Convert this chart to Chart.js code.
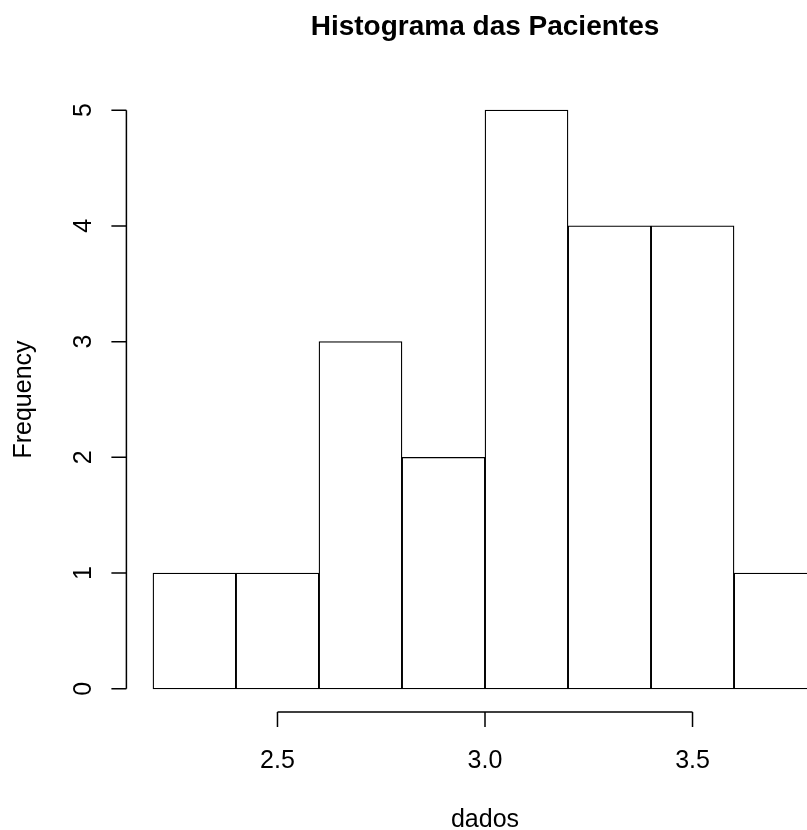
<!DOCTYPE html>
<html>
<head>
<meta charset="utf-8">
<script src="https://cdn.jsdelivr.net/npm/chart.js@4.4.1/dist/chart.umd.min.js"></script>
<style>
  html, body { margin: 0; padding: 0; overflow: hidden; background: #fff; }
  #wrap { width: 880px; height: 830px; }
</style>
</head>
<body>
<div id="wrap"><canvas id="hist" width="880" height="830"></canvas></div>
<script>
// Histogram bins (class limits) and counts per bin
const breaks = [2.2, 2.4, 2.6, 2.8, 3.0, 3.2, 3.4, 3.6, 3.8];
const counts = [1, 1, 3, 2, 5, 4, 4, 1];

// Axis ticks
const xTickValues = [2.5, 3.0, 3.5];
const xTickLabels = ['2.5', '3.0', '3.5'];
const yTickValues = [0, 1, 2, 3, 4, 5];
const yTickLabels = ['0', '1', '2', '3', '4', '5'];

// Texts
const titleText = 'Histograma das Pacientes';
const xLabelText = 'dados';
const yLabelText = 'Frequency';

// Plot range: break range / count range widened by 4% on each side
const xLo = breaks[0], xHi = breaks[breaks.length - 1];
const xPad = (xHi - xLo) * 0.04;
const yTop = Math.max(...counts);
const yPad = yTop * 0.04;

const barData = counts.map((c, i) => ({ x: (breaks[i] + breaks[i + 1]) / 2, y: c }));

const FONT = '"Liberation Sans", Arial, Helvetica, sans-serif';

// Base-graphics style axes, title and labels
const baseAxes = {
  id: 'baseAxes',
  afterDraw(chart) {
    const { ctx, chartArea: a, scales: { x, y } } = chart;
    ctx.save();
    ctx.strokeStyle = '#000';
    ctx.fillStyle = '#000';
    ctx.lineWidth = 1.5;
    const tick = 15;

    // x axis
    const xb = a.bottom;
    ctx.beginPath();
    ctx.moveTo(x.getPixelForValue(xTickValues[0]), xb);
    ctx.lineTo(x.getPixelForValue(xTickValues[xTickValues.length - 1]), xb);
    xTickValues.forEach(v => {
      const px = x.getPixelForValue(v);
      ctx.moveTo(px, xb);
      ctx.lineTo(px, xb + tick);
    });
    ctx.stroke();
    ctx.font = '25px ' + FONT;
    ctx.textAlign = 'center';
    ctx.textBaseline = 'alphabetic';
    xTickValues.forEach((v, i) => {
      ctx.fillText(xTickLabels[i], x.getPixelForValue(v), xb + 56);
    });

    // y axis
    const yl = a.left;
    ctx.beginPath();
    ctx.moveTo(yl, y.getPixelForValue(yTickValues[0]));
    ctx.lineTo(yl, y.getPixelForValue(yTickValues[yTickValues.length - 1]));
    yTickValues.forEach(v => {
      const py = y.getPixelForValue(v);
      ctx.moveTo(yl, py);
      ctx.lineTo(yl - tick, py);
    });
    ctx.stroke();
    yTickValues.forEach((v, i) => {
      ctx.save();
      ctx.translate(yl - 35, y.getPixelForValue(v));
      ctx.rotate(-Math.PI / 2);
      ctx.fillText(yTickLabels[i], 0, 0);
      ctx.restore();
    });

    // axis titles
    ctx.fillText(xLabelText, (a.left + a.right) / 2, xb + 115);
    ctx.save();
    ctx.translate(yl - 95, (a.top + a.bottom) / 2);
    ctx.rotate(-Math.PI / 2);
    ctx.fillText(yLabelText, 0, 0);
    ctx.restore();

    // main title
    ctx.font = 'bold 28px ' + FONT;
    ctx.fillText(titleText, (a.left + a.right) / 2, 35);
    ctx.restore();
  }
};

new Chart(document.getElementById('hist'), {
  type: 'bar',
  data: {
    datasets: [{
      data: barData,
      backgroundColor: '#ffffff',
      borderColor: '#000000',
      borderWidth: 1.3,
      borderSkipped: false,
      barPercentage: 1,
      categoryPercentage: 1
    }]
  },
  options: {
    responsive: false,
    animation: false,
    devicePixelRatio: 1,
    layout: { padding: { left: 126.4, right: 36.4, top: 87, bottom: 118 } },
    plugins: { legend: { display: false }, title: { display: false }, tooltip: { enabled: false } },
    scales: {
      x: {
        type: 'linear',
        display: false,
        offset: false,
        min: xLo - xPad,
        max: xHi + xPad,
        afterBuildTicks: s => { s.ticks = xTickValues.map(v => ({ value: v })); }
      },
      y: {
        type: 'linear',
        display: false,
        min: -yPad,
        max: yTop + yPad,
        afterBuildTicks: s => { s.ticks = yTickValues.map(v => ({ value: v })); }
      }
    }
  },
  plugins: [baseAxes]
});
</script>
</body>
</html>
